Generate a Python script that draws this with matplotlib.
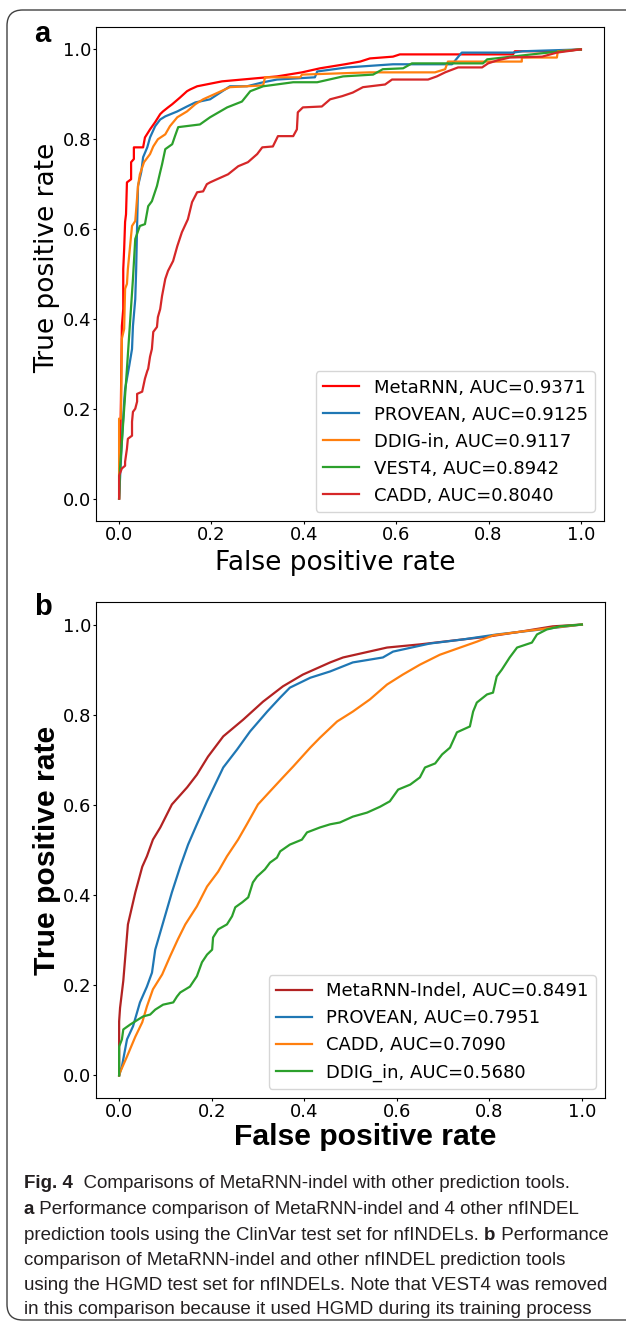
import matplotlib.pyplot as plt
from matplotlib.patches import FancyBboxPatch

# ---- panel a: ClinVar test set (fpr, tpr) ----
a_metarnn_fpr = [0, .002, .004, .006, .009, .009, .011, .013, .015, .017, .026, .026, .032, .032,
                 .052, .056, .067, .078, .089, .095, .106, .115, .132, .147, .154, .169, .223,
                 .342, .396, .435, .489, .522, .543, .593, .608, .853, .857, .948, .998, 1]
a_metarnn_tpr = [0, .067, .222, .384, .422, .511, .556, .616, .633, .704, .711, .749, .756, .782,
                 .782, .804, .822, .838, .856, .862, .871, .878, .893, .907, .911, .918, .929,
                 .940, .949, .958, .967, .973, .980, .984, .989, .989, .996, .996, 1.0, 1]

a_provean_fpr = [0, .002, .006, .011, .013, .017, .022, .028, .030, .035, .037, .039, .041, .048,
                 .052, .061, .067, .078, .089, .100, .126, .147, .165, .197, .240, .277, .312,
                 .342, .424, .429, .494, .593, .721, .742, .853, .874, .998, 1]
a_provean_tpr = [0, .044, .127, .216, .244, .267, .296, .333, .384, .444, .511, .607, .696, .727,
                 .760, .782, .804, .829, .844, .851, .862, .873, .882, .889, .918, .918, .927,
                 .933, .938, .951, .960, .967, .967, .993, .993, .996, 1.0, 1]

a_ddig_fpr = [0, 0, .004, .006, .011, .013, .017, .019, .028, .035, .041, .045, .054, .067, .074,
              .084, .100, .110, .126, .147, .165, .182, .240, .312, .316, .392, .396, .543, .684,
              .706, .712, .872, .872, .948, .950, .998, 1]
a_ddig_tpr = [0, .178, .178, .356, .378, .467, .478, .511, .607, .618, .696, .722, .749, .767, .784,
              .800, .811, .829, .849, .862, .878, .889, .916, .920, .938, .938, .944, .949, .949,
              .956, .973, .973, .982, .982, .996, 1.0, 1]

a_vest4_fpr = [0, .002, .017, .030, .035, .045, .056, .063, .071, .082, .089, .093, .100, .115,
               .121, .128, .175, .197, .234, .266, .284, .312, .377, .429, .485, .550, .571, .615,
               .634, .788, .797, .911, .998, 1]
a_vest4_tpr = [0, .067, .289, .489, .578, .607, .611, .651, .662, .696, .727, .744, .778, .789,
               .807, .827, .833, .849, .871, .884, .907, .918, .927, .927, .940, .944, .956, .958,
               .969, .969, .978, .991, 1.0, 1]

a_cadd_fpr = [0, 0, .006, .013, .013, .017, .019, .028, .028, .030, .035, .039, .039, .050, .056,
              .061, .063, .067, .071, .074, .082, .084, .089, .093, .100, .106, .117, .126, .136,
              .149, .158, .169, .182, .190, .197, .212, .236, .258, .279, .299, .310, .333, .344,
              .377, .385, .387, .398, .439, .457, .483, .506, .528, .576, .591, .669, .688, .706,
              .716, .734, .786, .799, .820, .846, .916, .948, .998, 1]
a_cadd_tpr = [0, .051, .067, .073, .082, .111, .133, .140, .171, .193, .200, .216, .233, .238, .267,
              .284, .289, .316, .333, .371, .382, .404, .422, .451, .489, .507, .529, .562, .593,
              .622, .660, .682, .684, .700, .704, .711, .722, .740, .749, .767, .782, .784, .807,
              .807, .822, .860, .871, .873, .889, .896, .904, .916, .922, .933, .933, .940, .949,
              .953, .960, .960, .969, .976, .982, .984, .993, 1.0, 1]

a_labels = ["MetaRNN, AUC=0.9371", "PROVEAN, AUC=0.9125", "DDIG-in, AUC=0.9117",
            "VEST4, AUC=0.8942", "CADD, AUC=0.8040"]

# ---- panel b: HGMD test set ----
b_metarnn_fpr = [0, 0, .002, .009, .019, .035, .050, .060, .073, .089, .114, .147, .168, .192,
                 .225, .268, .311, .354, .397, .456, .484, .579, .650, .743, .795, .866, .937, 1]
b_metarnn_tpr = [0, .12, .150, .210, .335, .406, .463, .486, .523, .550, .601, .639, .667, .707,
                 .752, .789, .829, .863, .889, .916, .927, .949, .956, .967, .973, .984, .996, 1]

b_provean_fpr = [0, .006, .017, .030, .045, .060, .071, .078, .095, .114, .132, .149, .168, .190,
                 .225, .255, .283, .320, .348, .369, .413, .456, .505, .570, .592, .672, .743,
                 .816, .894, 1]
b_provean_tpr = [0, .020, .080, .109, .162, .197, .228, .279, .339, .406, .463, .512, .557, .608,
                 .683, .723, .763, .807, .838, .860, .882, .896, .916, .927, .940, .958, .967,
                 .978, .987, 1]

b_cadd_fpr = [0, .002, .017, .035, .050, .060, .073, .093, .110, .127, .143, .168, .190, .214, .233,
              .257, .276, .300, .326, .354, .376, .413, .434, .471, .505, .542, .579, .613, .650,
              .693, .737, .773, .808, .866, .937, 1]
b_cadd_tpr = [0, .007, .042, .086, .118, .153, .191, .224, .264, .302, .335, .375, .419, .452, .486,
              .523, .557, .601, .630, .661, .685, .727, .749, .785, .807, .834, .867, .889, .911,
              .933, .949, .962, .976, .984, .993, 1]

b_ddig_fpr = [0, 0, .006, .009, .024, .041, .052, .067, .078, .095, .117, .125, .132, .153, .168,
              .179, .190, .201, .203, .214, .233, .244, .251, .266, .279, .289, .298, .315, .326,
              .341, .348, .369, .395, .406, .434, .456, .477, .505, .536, .564, .585, .603, .629,
              .650, .661, .683, .698, .715, .730, .758, .765, .773, .795, .808, .816, .827, .844,
              .860, .892, .903, .924, .952, 1]
b_ddig_tpr = [0, .064, .080, .102, .113, .124, .131, .135, .146, .157, .162, .175, .184, .197, .220,
              .251, .268, .279, .306, .324, .335, .353, .373, .384, .395, .428, .441, .457, .472,
              .483, .497, .512, .523, .539, .550, .557, .561, .574, .583, .596, .608, .634, .645,
              .661, .683, .692, .712, .727, .761, .774, .807, .827, .845, .849, .885, .900, .927,
              .949, .960, .978, .989, .996, 1]

b_labels = ["MetaRNN-Indel, AUC=0.8491", "PROVEAN, AUC=0.7951", "CADD, AUC=0.7090",
            "DDIG_in, AUC=0.5680"]

caption_lines = [
    [("Fig. 4", True), ("  Comparisons of MetaRNN-indel with other prediction tools.", False)],
    [("a", True), (" Performance comparison of MetaRNN-indel and 4 other nfINDEL", False)],
    [("prediction tools using the ClinVar test set for nfINDELs. ", False), ("b", True),
     (" Performance", False)],
    [("comparison of MetaRNN-indel and other nfINDEL prediction tools", False)],
    [("using the HGMD test set for nfINDELs. Note that VEST4 was removed", False)],
    [("in this comparison because it used HGMD during its training process", False)],
]

W, H = 626, 1324
fig = plt.figure(figsize=(W / 100, H / 100), dpi=100)

# rounded frame round the whole figure
frame = FancyBboxPatch((7 / W, 4 / H), 640 / W, 1310 / H, transform=fig.transFigure,
                       boxstyle="round,pad=0,rounding_size=0.025", fc="none",
                       ec="#404040", lw=1.0, mutation_aspect=W / H)
fig.add_artist(frame)

ticks = [0, 0.2, 0.4, 0.6, 0.8, 1.0]

# ---------------- panel a ----------------
ax1 = fig.add_axes([96 / W, 1 - 521 / H, 508 / W, 494 / H])
ax1.plot(a_metarnn_fpr, a_metarnn_tpr, color="red", lw=1.6, label=a_labels[0])
ax1.plot(a_provean_fpr, a_provean_tpr, color="tab:blue", lw=1.6, label=a_labels[1])
ax1.plot(a_ddig_fpr, a_ddig_tpr, color="tab:orange", lw=1.6, label=a_labels[2])
ax1.plot(a_vest4_fpr, a_vest4_tpr, color="tab:green", lw=1.6, label=a_labels[3])
ax1.plot(a_cadd_fpr, a_cadd_tpr, color="tab:red", lw=1.6, label=a_labels[4])
ax1.set_xticks(ticks)
ax1.set_yticks(ticks)
ax1.tick_params(labelsize=13, length=2, pad=1.5)
ax1.set_xlabel("False positive rate", fontsize=19, x=0.47, labelpad=4.5)
ax1.set_ylabel("True positive rate", fontsize=19, y=0.533, labelpad=1.5)
ax1.legend(loc="lower right", fontsize=13)

# ---------------- panel b ----------------
ax2 = fig.add_axes([96 / W, 1 - 1098 / H, 509 / W, 496 / H])
ax2.plot(b_metarnn_fpr, b_metarnn_tpr, color="firebrick", lw=1.6, label=b_labels[0])
ax2.plot(b_provean_fpr, b_provean_tpr, color="tab:blue", lw=1.6, label=b_labels[1])
ax2.plot(b_cadd_fpr, b_cadd_tpr, color="tab:orange", lw=1.6, label=b_labels[2])
ax2.plot(b_ddig_fpr, b_ddig_tpr, color="tab:green", lw=1.6, label=b_labels[3])
ax2.set_xticks(ticks)
ax2.set_yticks(ticks)
ax2.tick_params(labelsize=13, length=2, pad=1.5)
ax2.set_xlabel("False positive rate", fontsize=21.7, fontweight="bold",
               family="Liberation Sans", x=0.528, labelpad=1.5)
ax2.set_ylabel("True positive rate", fontsize=21.7, fontweight="bold",
               family="Liberation Sans", labelpad=1)
ax2.legend(loc="lower right", fontsize=13)

# panel letters
fig.text(34 / W, 1 - 42 / H, "a", fontsize=21, fontweight="bold", family="Liberation Sans")
fig.text(34 / W, 1 - 615 / H, "b", fontsize=21, fontweight="bold", family="Liberation Sans")

# ---------------- caption ----------------
cap = fig.add_axes([0, 0, 1, 1])
cap.axis("off")
line_y = [1188, 1214, 1240, 1265, 1290, 1314]
for parts, y in zip(caption_lines, line_y):
    prev = None
    for txt, bold in parts:
        kw = dict(fontsize=13.5, family="Liberation Sans", color="#231f20",
                  fontweight="bold" if bold else "normal")
        if prev is None:
            prev = cap.text(24 / W, 1 - y / H, txt, ha="left", va="baseline", **kw)
        else:
            prev = cap.annotate(txt, xy=(1, 0), xycoords=prev, ha="left", va="bottom", **kw)

fig.savefig("out.png", dpi=100)
